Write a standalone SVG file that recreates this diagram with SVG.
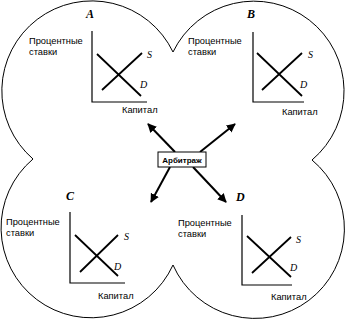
<svg xmlns="http://www.w3.org/2000/svg" width="348" height="321" viewBox="0 0 348 321">
<style>
.outline{fill:none;stroke:#000;stroke-width:1}
.axis{fill:none;stroke:#000;stroke-width:1.2}
.curve{fill:none;stroke:#000;stroke-width:1.8}
.lbl{font-family:"Liberation Sans",Arial,sans-serif;font-size:9.3px;fill:#000}
.ttl{font-family:"Liberation Serif","Times New Roman",serif;font-size:12px;font-weight:bold;font-style:italic;fill:#000}
.sd{font-family:"Liberation Serif","Times New Roman",serif;font-size:10px;font-style:italic;fill:#000}
.arr{fill:none;stroke:#000;stroke-width:2;marker-end:url(#ah)}
.box{fill:#fff;stroke:#000;stroke-width:1}
.boxt{font-family:"Liberation Sans",Arial,sans-serif;font-size:8px;font-weight:bold;fill:#000}
</style>
<defs>
<marker id="ah" viewBox="0 0 10 10" refX="9" refY="5" markerWidth="4.5" markerHeight="4.5" orient="auto" markerUnits="strokeWidth">
<path d="M0,0 L10,5 L0,10 Z" fill="#000"/>
</marker>
</defs>
<rect width="348" height="321" fill="#fff"/>
<path id="clover" class="outline" d="M173,52 A90,90 0 1 1 312,160 A89.5,89.5 0 1 1 173,265 A90,90 0 1 1 33,159 A90,90 0 1 1 173,52 Z"/>
<g id="connectors">
<path class="arr" d="M175,152 L148,124"/>
<path class="arr" d="M200,152 L235,124"/>
<path class="arr" d="M170,167 L151,202"/>
<path class="arr" d="M193,167 L226,202"/>
</g>
<g id="nodeA">
<text class="ttl" x="86" y="18">A</text>
<text class="lbl" x="29" y="44">Процентные</text>
<text class="lbl" x="29" y="55">ставки</text>
<path class="axis" d="M92,31 V102 H147"/>
<path class="curve" d="M97,54 L141,96 M102,90 L142,53"/>
<text class="sd" x="147" y="58">S</text>
<text class="sd" x="140" y="88">D</text>
<text class="lbl" x="122" y="113">Капитал</text>
</g>
<g id="nodeB">
<text class="ttl" x="247" y="18">B</text>
<text class="lbl" x="188" y="44">Процентные</text>
<text class="lbl" x="188" y="55">ставки</text>
<path class="axis" d="M253,32 V102 H304"/>
<path class="curve" d="M257,53 L302,96 M262,90 L302,53"/>
<text class="sd" x="308" y="58">S</text>
<text class="sd" x="300" y="88">D</text>
<text class="lbl" x="282" y="115">Капитал</text>
</g>
<g id="nodeC">
<text class="ttl" x="66" y="200">C</text>
<text class="lbl" x="6" y="225">Процентные</text>
<text class="lbl" x="6" y="236">ставки</text>
<path class="axis" d="M70,212 V283 H125"/>
<path class="curve" d="M75,235 L118,276 M80,272 L118,235"/>
<text class="sd" x="124" y="240">S</text>
<text class="sd" x="114" y="270">D</text>
<text class="lbl" x="98" y="299">Капитал</text>
</g>
<g id="nodeD">
<text class="ttl" x="236" y="201">D</text>
<text class="lbl" x="178" y="226">Процентные</text>
<text class="lbl" x="178" y="237">ставки</text>
<path class="axis" d="M242,215 V285 H292"/>
<path class="curve" d="M247,236 L291,277 M252,273 L291,237"/>
<text class="sd" x="296" y="243">S</text>
<text class="sd" x="290" y="271">D</text>
<text class="lbl" x="271" y="300">Капитал</text>
</g>
<g id="arbitrage">
<rect class="box" x="158" y="152" width="48" height="15"/>
<text class="boxt" x="182" y="163" text-anchor="middle">Арбитраж</text>
</g>
</svg>
